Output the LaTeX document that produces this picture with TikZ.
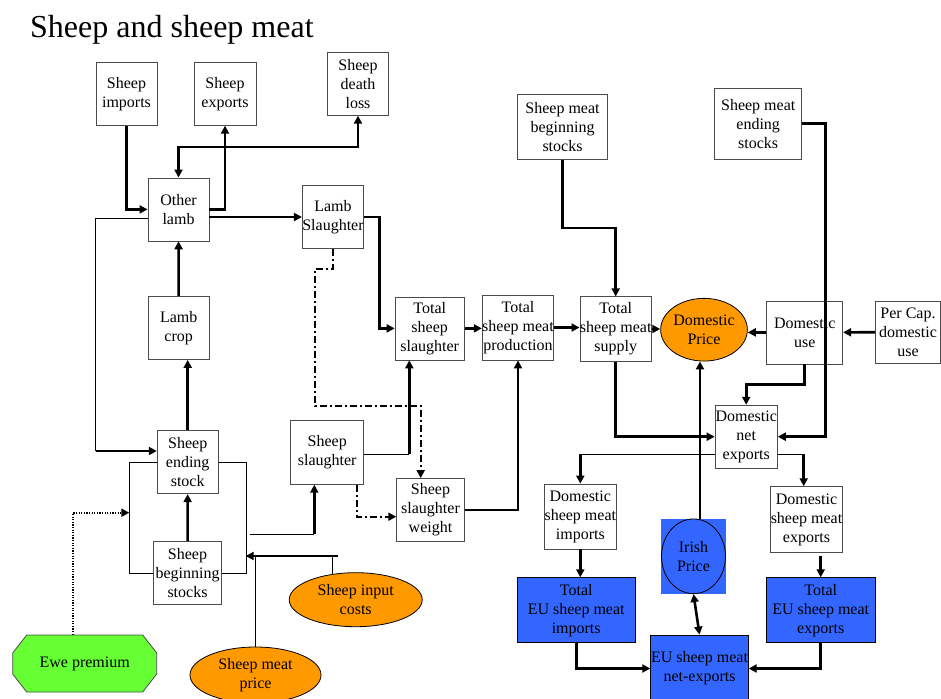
\documentclass[tikz,border=0pt]{standalone}
\usepackage{fontspec}
\setmainfont{Liberation Serif}
\usetikzlibrary{arrows.meta,shapes.geometric}

\definecolor{priceorange}{RGB}{255,153,0}
\definecolor{eublue}{RGB}{51,102,255}
\definecolor{ewegreen}{RGB}{102,255,51}

\begin{document}
\begin{tikzpicture}[x=1pt,y=-1pt,>={Triangle[length=8pt,width=8pt]},
                    font=\fontsize{16}{19}\selectfont,
                    flow box/.style={rectangle,draw=black!70,line width=0.8pt,fill=white,align=center,inner sep=0pt,minimum width=61pt,minimum height=63pt},
                    eu box/.style={flow box,draw=black,fill=eublue},
                    price node/.style={ellipse,draw,line width=0.8pt,fill=priceorange,align=center,inner sep=0pt},
                    flow line/.style={line width=2.6pt},
                    fine line/.style={line width=0.9pt},
                    weight line/.style={line width=1.8pt,dash pattern=on 7pt off 3pt on 2pt off 3pt},
                    premium line/.style={line width=2pt,dash pattern=on 1.2pt off 1.4pt}]

  \useasboundingbox (0,0) rectangle (941,698);

  \node[anchor=base west,inner sep=0pt,font=\fontsize{32}{38}\selectfont] (title) at (30,37.3) {Sheep and sheep meat};

  % sheep numbers
  \node[flow box] (imports) at (126.5,93.8) {Sheep\\imports};
  \node[flow box,minimum width=62pt] (exports) at (225,93.8) {Sheep\\exports};
  \node[flow box] (deathloss) at (358,83.8) {Sheep\\death\\loss};
  \node[flow box] (otherlamb) at (178.5,209.4) {Other\\lamb};
  \node[flow box] (lambslau) at (333,217) {Lamb\\Slaughter};
  \node[flow box] (lambcrop) at (178.7,328) {Lamb\\crop};
  \node[flow box] (endstock) at (187.7,462.2) {Sheep\\ending\\stock};
  \node[flow box,minimum width=68.4pt] (begstock) at (187.5,573) {Sheep\\beginning\\stocks};
  \node[flow box,minimum width=73pt,minimum height=63.6pt] (sheepslau) at (327.2,452.5) {Sheep\\slaughter};
  \node[flow box,minimum width=67.6pt] (slauweight) at (430.5,510) {Sheep\\slaughter\\weight};
  \node[flow box,minimum width=69.3pt] (totslau) at (429.7,328.4) {Total\\sheep\\slaughter};
  \node[flow box,minimum width=70.6pt,minimum height=65pt] (production) at (518,327.5) {Total\\sheep meat\\production};

  % sheep meat market
  \node[flow box,minimum width=90.4pt,minimum height=65.3pt] (meatbeg) at (562.5,126.7) {Sheep meat\\beginning\\stocks};
  \node[flow box,minimum width=70.7pt,minimum height=64.3pt] (supply) at (615.7,329) {Total\\sheep meat\\supply};
  \node[price node,minimum width=84.3pt,minimum height=62.7pt] (domprice) at (704,329.7) {Domestic\\Price};
  \node[flow box,minimum width=87pt,minimum height=71.3pt] (meatend) at (758.2,123.7) {Sheep meat\\ending\\stocks};
  \node[flow box,minimum width=76pt] (domuse) at (804.7,332.4) {Domestic\\use};
  \node[flow box,minimum width=65pt,minimum height=62.3pt] (percap) at (908,332.2) {Per Cap.\\domestic\\use};
  \node[flow box,minimum width=62.3pt] (netexp) at (746.2,436.7) {Domestic\\net\\exports};
  \node[flow box,minimum width=72pt,minimum height=65pt] (domimp) at (580.3,516.5) {Domestic\\sheep meat\\imports};
  \node[flow box,minimum width=72.4pt,minimum height=65.7pt] (domexp) at (806.5,519.5) {Domestic\\sheep meat\\exports};

  % EU market
  \node[fill=eublue,minimum width=65pt,minimum height=74.7pt,inner sep=0pt] (irishbg) at (693.5,556.3) {};
  \node[ellipse,draw,line width=0.8pt,fill=eublue,align=center,inner sep=0pt,minimum width=64pt,minimum height=74.7pt] (irish) at (irishbg) {Irish\\Price};
  \node[eu box,minimum width=117.7pt,minimum height=65pt] (euimp) at (576.2,610.2) {Total\\EU sheep meat\\imports};
  \node[eu box,minimum width=108.7pt,minimum height=65pt] (euexp) at (820.7,610.2) {Total\\EU sheep meat\\exports};
  \node[eu box,minimum width=97.6pt,minimum height=67pt] (eunet) at (699.5,668.5) {EU sheep meat\\net-exports};

  % drivers
  \node[price node,minimum width=133pt,minimum height=54pt] (inputcost) at (355.7,599.7) {Sheep input\\costs};
  \node[price node,minimum width=131pt,minimum height=56pt] (meatprice) at (255.5,675) {Sheep meat\\price};
  \filldraw[fill=ewegreen,draw=black!70,line width=0.8pt] (12.7,653) -- (26.7,635) -- (142.7,635) -- (156.7,653)
    -- (156.7,674) -- (142.7,692) -- (26.7,692) -- (12.7,674) -- cycle;
  \node[minimum width=144pt,minimum height=57pt,inner sep=0pt] (ewe) at (84.7,663.5) {Ewe premium};

  \coordinate (lambloop) at (95.7,451);
  \coordinate (premiumin) at (129.3,512.7);
  \coordinate (pricein) at (245.7,556);
  \coordinate (costjoin) at (337.7,556);
  \coordinate (costtop) at (332.3,574.4);
  \coordinate (slaufeed) at (249.7,534.3);
  \coordinate (slaurise) at (314.3,534.3);
  \coordinate (totrise) at (409.3,454);
  \coordinate (weightbend) at (314.7,405.7);
  \coordinate (impsplit) at (580.3,454);
  \coordinate (expsplit) at (803.7,454);
  \coordinate (irishtop) at (700,518.5);

  % sheep flows
  \draw[flow line,->] (imports) |- (otherlamb);
  \draw[flow line,->] (otherlamb.east) -| (exports);
  \draw[flow line,<->] (otherlamb.north) -- ++(0,-30.7) -| (deathloss);
  \draw[flow line,->] (otherlamb.east |- lambslau.west) -- (lambslau.west);
  \draw[flow line,->] (lambslau.east) -- ++(15.6,0) |- (totslau);
  \draw[flow line,->] (lambcrop) -- (otherlamb);
  \draw[flow line,->] (endstock.north) -- (endstock.north |- lambcrop.south);
  \draw[flow line,->] (begstock) -- (endstock);
  \draw[fine line] ([yshift=-8.9pt]otherlamb.west) -| (lambloop);
  \draw[flow line,->] (lambloop) -- (lambloop -| endstock.west);
  \draw[fine line] (endstock.west) -- ++(-27.7,0) |- (begstock.west);
  \draw[fine line] (endstock.east) -- ++(27.4,0) |- (begstock.east);
  \draw[premium line,->] ([xshift=-11.4pt]ewe.north) |- (premiumin);
  \draw[fine line] (meatprice) -- (meatprice |- pricein);
  \draw[fine line] (costtop) -- (costtop |- pricein);
  \draw[flow line,->] (costjoin) -- (pricein);
  \draw[fine line] (slaufeed) -- (slaurise);
  \draw[flow line,->] (slaurise) -- (slaurise |- sheepslau.south);

  % slaughter
  \draw[fine line] (sheepslau.east |- totrise) -- (totrise);
  \draw[flow line,->] (totrise) -- (totrise |- totslau.south);
  \draw[weight line,->] (lambslau.south) -- ++(0,20.3) -| (weightbend) -| ([xshift=-9.8pt]slauweight.north);
  \draw[weight line,->] ([xshift=29.5pt]sheepslau.south) |- ([yshift=-6.7pt]slauweight.west);
  \draw[flow line,->] (slauweight) -| (production);
  \draw[flow line,->] (totslau.east) -- (totslau.east -| production.west);
  \draw[flow line,->] (production.east) -- (production.east -| supply.west);

  % sheep meat market
  \draw[flow line,->] (meatbeg.south) -- ++(0,68.4) -| (supply);
  \draw[flow line,->] (supply.east) -- (supply.east -| domprice.west);
  \draw[flow line,->] (domuse.west) -- (domuse.west -| domprice.east);
  \draw[flow line,->] (percap) -- (domuse);
  \draw[flow line,->] (meatend.east) -- ++(23.3,0) |- (netexp);
  \draw[flow line,->] (domuse.south) -- ++(0,20.3) -| (netexp);
  \draw[flow line,->] (supply.south) |- (netexp);
  \draw[fine line] ([yshift=-17.3pt]netexp.west) -- (impsplit);
  \draw[flow line,->] (impsplit) -- (domimp);
  \draw[fine line] ([yshift=-17.3pt]netexp.east) -- (expsplit);
  \draw[flow line,->] (expsplit) -- (expsplit |- domexp.north);

  % EU market
  \draw[flow line,->] (domimp.south) -- (domimp.south |- euimp.north);
  \draw[flow line,->] (euexp.north) ++(0,-21) -- (euexp.north);
  \draw[flow line,->] (irishtop) -- (irishtop |- domprice.south);
  \draw[flow line,<->] (irish.south) -- (eunet.north);
  \draw[flow line,->] (euimp.south) |- (eunet.west);
  \draw[flow line,->] (euexp.south) |- (eunet.east);

\end{tikzpicture}
\end{document}
